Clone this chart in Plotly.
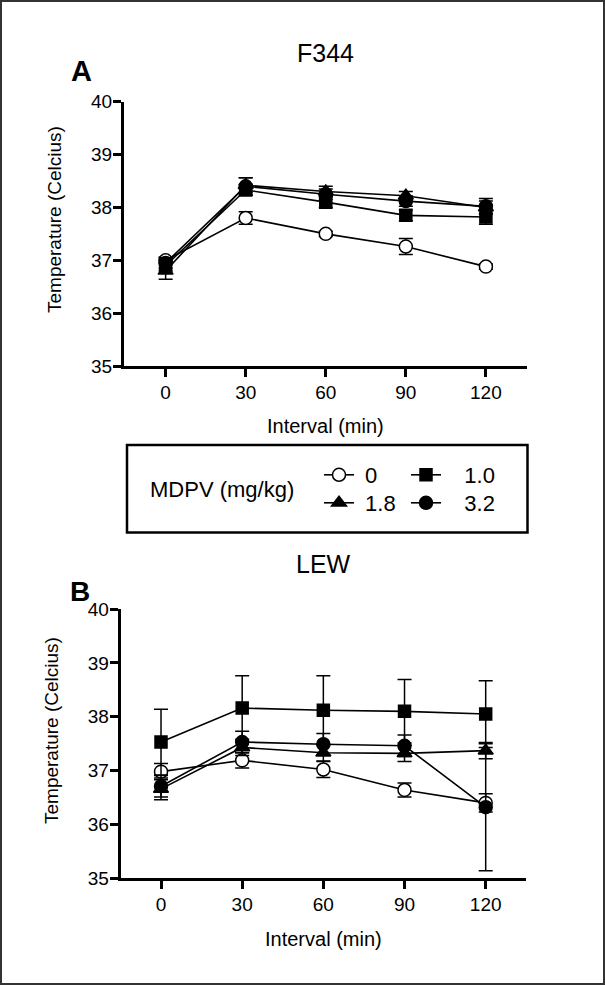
import plotly.graph_objects as go

# ---------------- data ----------------
intervals = [0, 30, 60, 90, 120]
doses = ["0", "1.0", "1.8", "3.2"]

# Panel A: F344
f344_mean = {
    "0":   [37.00, 37.80, 37.50, 37.26, 36.88],
    "1.0": [36.90, 38.33, 38.10, 37.85, 37.82],
    "1.8": [36.80, 38.42, 38.30, 38.22, 38.00],
    "3.2": [36.95, 38.40, 38.25, 38.12, 38.02],
}
f344_err = {
    "0":   [0.06, 0.12, 0.05, 0.15, 0.05],
    "1.0": [0.10, 0.10, 0.10, 0.10, 0.14],
    "1.8": [0.16, 0.14, 0.10, 0.08, 0.12],
    "3.2": [0.10, 0.16, 0.10, 0.10, 0.15],
}

# Panel B: LEW
lew_mean = {
    "0":   [36.98, 37.19, 37.02, 36.64, 36.40],
    "1.0": [37.53, 38.16, 38.12, 38.10, 38.05],
    "1.8": [36.66, 37.43, 37.33, 37.32, 37.37],
    "3.2": [36.71, 37.53, 37.49, 37.46, 36.32],
}
lew_err = {
    "0":   [0.15, 0.14, 0.15, 0.13, 0.17],
    "1.0": [0.61, 0.60, 0.64, 0.59, 0.62],
    "1.8": [0.20, 0.15, 0.15, 0.15, 0.15],
    "3.2": [0.20, 0.20, 0.20, 0.20, 1.18],
}

y_ticks = [35, 36, 37, 38, 39, 40]
x_ticks = [0, 30, 60, 90, 120]

# ---------------- style ----------------
FONT = "Liberation Sans, Arial, sans-serif"
W, H = 605, 985
style = {
    "0":   dict(symbol="circle", color="white", size=13),
    "1.0": dict(symbol="square", color="black", size=12),
    "1.8": dict(symbol="triangle-up", color="black", size=13),
    "3.2": dict(symbol="circle", color="black", size=13),
}
# one small legend per entry, laid out as a 2 x 2 grid (pixel positions)
legend_of = {"0": "legend", "1.0": "legend2", "1.8": "legend3", "3.2": "legend4"}
legend_pos = {"legend": (319, 475), "legend2": (406, 475),
              "legend3": (319, 503), "legend4": (406, 503)}
# leading spaces reproduce the symbol-to-label gap of the original legend
legend_pad = {"0": " ", "1.0": "   ", "1.8": " ", "3.2": "   "}

def px_x(p):
    return p / W

def px_y(p):
    return 1 - p / H

fig = go.Figure()

for panel, (means, errs, xa, ya) in enumerate([
        (f344_mean, f344_err, "x", "y"),
        (lew_mean, lew_err, "x2", "y2")]):
    for d in doses:
        s = style[d]
        fig.add_trace(go.Scatter(
            x=intervals, y=means[d], mode="lines+markers", name=legend_pad[d] + d,
            xaxis=xa, yaxis=ya,
            line=dict(color="black", width=1.6),
            marker=dict(symbol=s["symbol"], color=s["color"], size=s["size"],
                        line=dict(color="black", width=1.5)),
            error_y=dict(type="data", array=errs[d], visible=True,
                         color="black", thickness=1.5, width=7),
            showlegend=(panel == 0), legend=legend_of[d],
        ))

axis_common = dict(
    showline=True, linecolor="black", linewidth=3, mirror=False,
    ticks="outside", ticklen=8, tickwidth=3, tickcolor="black",
    showgrid=False, zeroline=False, automargin=False,
    tickfont=dict(family=FONT, size=19, color="black"),
)

def ann(text, x, y, size, angle=0):
    return dict(text=text, x=px_x(x), y=px_y(y), xref="paper", yref="paper",
                xanchor="center", yanchor="middle", showarrow=False, textangle=angle,
                font=dict(family=FONT, size=size, color="black"))

leg_common = dict(orientation="h", xanchor="left", yanchor="middle", itemwidth=30,
                  font=dict(family=FONT, size=22, color="black"),
                  bgcolor="rgba(0,0,0,0)", borderwidth=0)
legends = {name: dict(x=px_x(px), y=px_y(py), **leg_common)
           for name, (px, py) in legend_pos.items()}

fig.update_layout(
    width=W, height=H,
    margin=dict(l=0, r=0, t=0, b=0, pad=0, autoexpand=False),
    paper_bgcolor="white", plot_bgcolor="white",
    font=dict(family=FONT, color="black"),
    xaxis=dict(domain=[px_x(124), px_x(527)], range=[-15.6, 135.4], anchor="y",
               tickvals=x_ticks, ticklabelstandoff=-1, **axis_common),
    yaxis=dict(domain=[px_y(366), px_y(101.7)], range=[35, 40], anchor="x",
               tickvals=y_ticks, ticklabelstandoff=-3, **axis_common),
    xaxis2=dict(domain=[px_x(120.7), px_x(526)], range=[-14.9, 134.9], anchor="y2",
                tickvals=x_ticks, ticklabelstandoff=-1, **axis_common),
    yaxis2=dict(domain=[px_y(878.3), px_y(609)], range=[35, 40], anchor="x2",
                tickvals=y_ticks, ticklabelstandoff=-3, **axis_common),
    shapes=[
        dict(type="rect", xref="paper", yref="paper",
             x0=px_x(1), x1=px_x(604), y0=px_y(984), y1=px_y(1),
             line=dict(color="#333333", width=2), fillcolor="rgba(0,0,0,0)"),
        dict(type="rect", xref="paper", yref="paper",
             x0=px_x(127), x1=px_x(527.5), y0=px_y(532.5), y1=px_y(445),
             line=dict(color="black", width=2.5), fillcolor="rgba(0,0,0,0)"),
    ],
    annotations=[
        ann("<b>A</b>", 81, 71, 29),
        ann("<b>B</b>", 80, 591, 28),
        ann("F344", 325, 53, 25),
        ann("LEW", 323, 564, 25),
        ann("MDPV (mg/kg)", 222, 490, 22),
        ann("Temperature (Celcius)", 54, 220, 19, -90),
        ann("Temperature (Celcius)", 51, 730, 19, -90),
        ann("Interval (min)", 325, 426, 20),
        ann("Interval (min)", 323, 939, 20),
    ],
    **legends,
)

fig.write_html(
    "out.html",
    config={"displayModeBar": False},
    post_script="document.body.style.margin='0';document.body.style.overflow='hidden';",
)
